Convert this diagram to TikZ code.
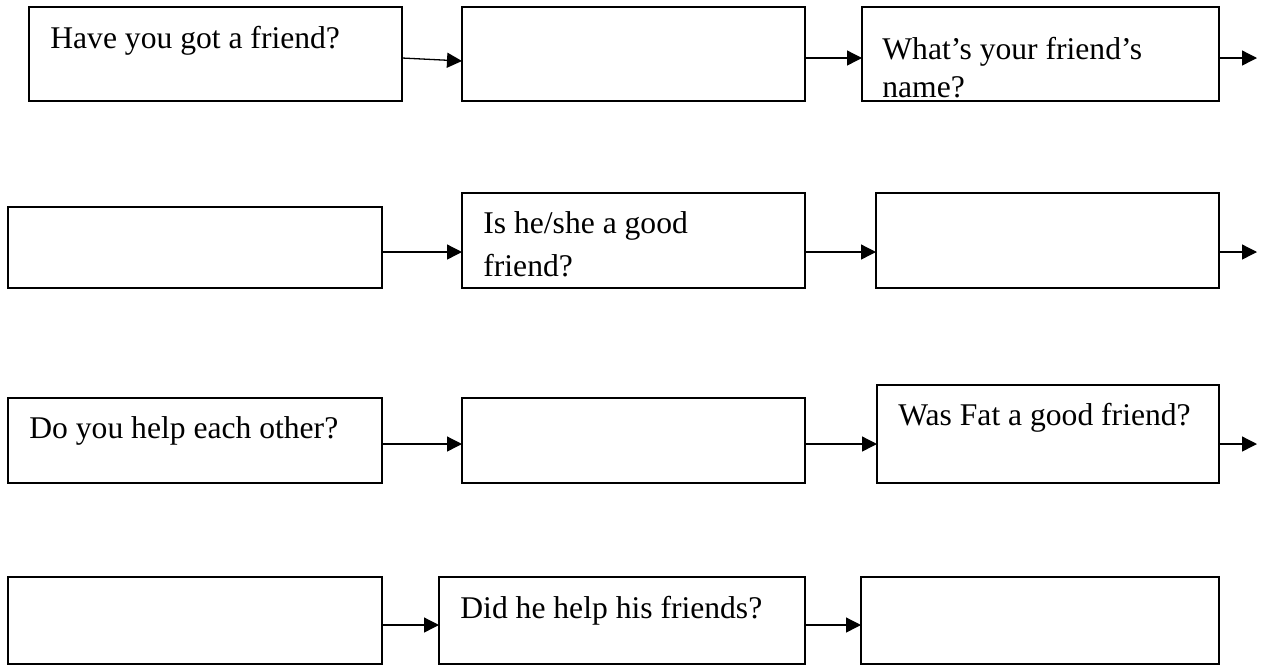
\documentclass[tikz,border=0pt]{standalone}
\usepackage{fontspec}
\setmainfont{Liberation Serif}
\usepackage{tikz}
\usetikzlibrary{arrows.meta, positioning, calc}
\tikzset{
  qbox/.style={
    draw=black, line width=0.6pt, fill=white, rectangle,
    anchor=north west, inner sep=0pt, outer sep=0pt
  },
  qtext/.style={
    anchor=base west, inner sep=0pt, align=left,
    font=\fontsize{15.8pt}{18.3pt}\selectfont
  },
  link/.style={draw, line width=0.65pt, -{Triangle[length=7.5pt, width=7.5pt]}},
}
\begin{document}
\begin{tikzpicture}[x=0.5pt, y=-0.5pt]
  \useasboundingbox (0,0) rectangle (1263,666);

  \node[qbox, minimum width=186.5pt, minimum height=47pt] (B11) at (29,7) {};
  \node[qbox, minimum width=171.5pt, minimum height=47pt] (B12) at (462,7) {};
  \node[qbox, minimum width=178.5pt, minimum height=47pt] (B13) at (862,7) {};

  \node[qbox, minimum width=187pt, minimum height=40.5pt] (B21) at (8,207) {};
  \node[qbox, minimum width=171.5pt, minimum height=47.5pt] (B22) at (462,193) {};
  \node[qbox, minimum width=171.5pt, minimum height=47.5pt] (B23) at (876,193) {};

  \node[qbox, minimum width=187pt, minimum height=42.5pt] (B31) at (8,398) {};
  \node[qbox, minimum width=171.5pt, minimum height=42.5pt] (B32) at (462,398) {};
  \node[qbox, minimum width=171pt, minimum height=49pt] (B33) at (877,385) {};

  \node[qbox, minimum width=187pt, minimum height=43.5pt] (B41) at (8,577) {};
  \node[qbox, minimum width=183pt, minimum height=43.5pt] (B42) at (439,577) {};
  \node[qbox, minimum width=179pt, minimum height=43.5pt] (B43) at (861,577) {};

  \node[qtext] (T11) at (50,48) {Have you got a friend?};
  \node[qtext] (T13) at (882,97) {What’s your friend’s\\[0.5pt]name?};
  \node[qtext] (T22) at (483,276) {Is he/she a good\\[2.9pt]friend?};
  \node[qtext] (T31) at (29,438) {Do you help each other?};
  \node[qtext] (T33) at (898,425) {Was Fat a good friend?};
  \node[qtext] (T42) at (460,618) {Did he help his friends?};

  \coordinate (R1a) at (0,58);
  \coordinate (R1b) at (0,61);
  \coordinate (R2) at (0,252);
  \coordinate (R3) at (0,444);
  \coordinate (R4) at (0,625);
  \coordinate (E1) at (1257,58);
  \coordinate (E2) at (1257,252);
  \coordinate (E3) at (1257,444);

  \draw[link] (B11.east |- R1a) -- (B12.west |- R1b);
  \draw[link] (B12.east |- R1a) -- (B13.west |- R1a);
  \draw[link] (B13.east |- R1a) -- (E1);

  \draw[link] (B21.east |- R2) -- (B22.west |- R2);
  \draw[link] (B22.east |- R2) -- (B23.west |- R2);
  \draw[link] (B23.east |- R2) -- (E2);

  \draw[link] (B31.east |- R3) -- (B32.west |- R3);
  \draw[link] (B32.east |- R3) -- (B33.west |- R3);
  \draw[link] (B33.east |- R3) -- (E3);

  \draw[link] (B41.east |- R4) -- (B42.west |- R4);
  \draw[link] (B42.east |- R4) -- (B43.west |- R4);
\end{tikzpicture}
\end{document}
